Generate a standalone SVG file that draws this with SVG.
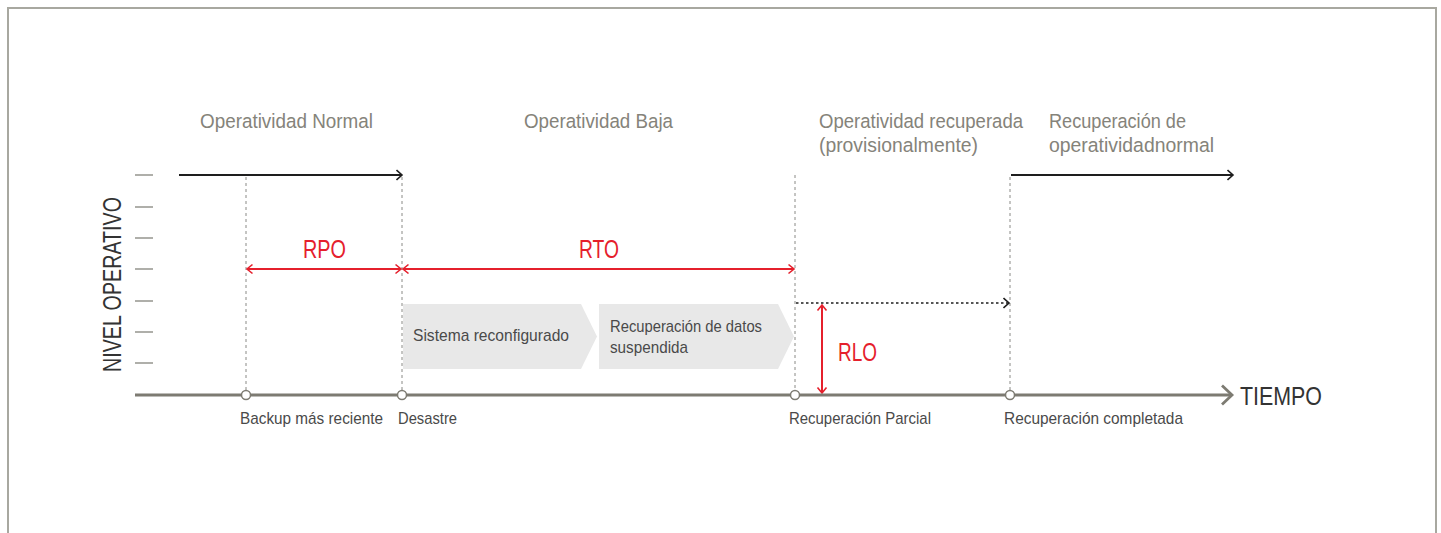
<svg xmlns="http://www.w3.org/2000/svg" width="1441" height="533" viewBox="0 0 1441 533">
<style>
.frame{fill:none;stroke:#a8a8a0;stroke-width:2}
.tick{stroke:#94948e;stroke-width:1.5}
.axis{stroke:#7d7b72;stroke-width:3;fill:none}
.guide{stroke:#8a8a86;stroke-width:1;stroke-dasharray:3 3;fill:none}
.black{stroke:#1e1e1e;stroke-width:2;fill:none}
.dotted{stroke:#1e1e1e;stroke-width:1.3;stroke-dasharray:2.5 2.5;fill:none}
.red{stroke:#e5202c;stroke-width:2;fill:none}
.node{fill:#fff;stroke:#7d7b72;stroke-width:1.5}
.box{fill:#e8e8e8}
text{font-family:"Liberation Sans",Arial,sans-serif}
.hdr{font-size:20.5px;fill:#85837a}
.lbl{font-size:17px;fill:#4a4a4a}
.big{font-size:25px;fill:#e5202c}
.ax{font-size:25px;fill:#333}
</style>
<defs>
<marker id="ab" markerUnits="userSpaceOnUse" markerWidth="10" markerHeight="14" refX="6.5" refY="6" orient="auto"><path d="M1,1 L6.5,6 L1,11" fill="none" stroke="#1e1e1e" stroke-width="1.6"/></marker>
<marker id="ar" markerUnits="userSpaceOnUse" markerWidth="10" markerHeight="14" refX="6.5" refY="6" orient="auto-start-reverse"><path d="M1,1.5 L6.5,6 L1,10.5" fill="none" stroke="#e5202c" stroke-width="1.6"/></marker>
<marker id="aa" markerUnits="userSpaceOnUse" markerWidth="16" markerHeight="24" refX="12" refY="11" orient="auto"><path d="M2,1.5 L12,11 L2,20.5" fill="none" stroke="#7d7b72" stroke-width="2.8"/></marker>
</defs>

<path class="frame" d="M8,533 V8 H1436 V533"/>

<g id="y-axis">
<line class="tick" x1="135" y1="175" x2="153" y2="175"/>
<line class="tick" x1="135" y1="207" x2="153" y2="207"/>
<line class="tick" x1="135" y1="238" x2="153" y2="238"/>
<line class="tick" x1="135" y1="269" x2="153" y2="269"/>
<line class="tick" x1="135" y1="301" x2="153" y2="301"/>
<line class="tick" x1="135" y1="332" x2="153" y2="332"/>
<line class="tick" x1="135" y1="363" x2="153" y2="363"/>
<text class="ax" transform="translate(121,372) rotate(-90)" textLength="175" lengthAdjust="spacingAndGlyphs">NIVEL OPERATIVO</text>
</g>

<g id="phase-labels">
<text class="hdr" x="200" y="128" textLength="173" lengthAdjust="spacingAndGlyphs">Operatividad Normal</text>
<text class="hdr" x="524" y="128" textLength="149" lengthAdjust="spacingAndGlyphs">Operatividad Baja</text>
<text class="hdr" x="819" y="128" textLength="204" lengthAdjust="spacingAndGlyphs">Operatividad recuperada</text>
<text class="hdr" x="819" y="152" textLength="159" lengthAdjust="spacingAndGlyphs">(provisionalmente)</text>
<text class="hdr" x="1049" y="128" textLength="137" lengthAdjust="spacingAndGlyphs">Recuperación de</text>
<text class="hdr" x="1049" y="152" textLength="165" lengthAdjust="spacingAndGlyphs">operatividadnormal</text>
</g>

<g id="box-sistema">
<path class="box" d="M403,304 H581 L597,336.5 L581,369 H403 Z"/>
<text class="lbl" x="413" y="341" textLength="156" lengthAdjust="spacingAndGlyphs">Sistema reconfigurado</text>
</g>
<g id="box-recuperacion">
<path class="box" d="M599,304 H778 L794,336.5 L778,369 H599 Z"/>
<text class="lbl" x="610" y="332" textLength="152" lengthAdjust="spacingAndGlyphs">Recuperación de datos</text>
<text class="lbl" x="610" y="353" textLength="78" lengthAdjust="spacingAndGlyphs">suspendida</text>
</g>

<g id="connectors">
<line class="guide" x1="246" y1="177" x2="246" y2="390"/>
<line class="guide" x1="402" y1="177" x2="402" y2="390"/>
<line class="guide" x1="795" y1="175" x2="795" y2="390"/>
<line class="guide" x1="1010" y1="177" x2="1010" y2="390"/>
<line class="black" x1="179" y1="175" x2="402" y2="175" marker-end="url(#ab)"/>
<line class="black" x1="1011" y1="175" x2="1233" y2="175" marker-end="url(#ab)"/>
<line class="dotted" x1="796" y1="303" x2="1009" y2="303" marker-end="url(#ab)"/>
<line class="red" x1="247" y1="269" x2="401" y2="269" marker-start="url(#ar)" marker-end="url(#ar)"/>
<line class="red" x1="403" y1="269" x2="794" y2="269" marker-start="url(#ar)" marker-end="url(#ar)"/>
<line class="red" x1="822" y1="305" x2="822" y2="393" marker-start="url(#ar)" marker-end="url(#ar)"/>
<line class="axis" x1="135" y1="395" x2="1232" y2="395" marker-end="url(#aa)"/>
</g>

<g id="metrics">
<text class="big" x="303" y="258" textLength="43" lengthAdjust="spacingAndGlyphs">RPO</text>
<text class="big" x="579" y="258" textLength="40" lengthAdjust="spacingAndGlyphs">RTO</text>
<text class="big" x="838" y="361" textLength="39" lengthAdjust="spacingAndGlyphs">RLO</text>
</g>

<g id="node-backup">
<circle class="node" cx="246" cy="395" r="4.5"/>
<text class="lbl" x="240" y="424" textLength="143" lengthAdjust="spacingAndGlyphs">Backup más reciente</text>
</g>
<g id="node-desastre">
<circle class="node" cx="402" cy="395" r="4.5"/>
<text class="lbl" x="398" y="424" textLength="59" lengthAdjust="spacingAndGlyphs">Desastre</text>
</g>
<g id="node-parcial">
<circle class="node" cx="795" cy="395" r="4.5"/>
<text class="lbl" x="789" y="424" textLength="142" lengthAdjust="spacingAndGlyphs">Recuperación Parcial</text>
</g>
<g id="node-completada">
<circle class="node" cx="1010" cy="395" r="4.5"/>
<text class="lbl" x="1004" y="424" textLength="179" lengthAdjust="spacingAndGlyphs">Recuperación completada</text>
</g>

<g id="tiempo">
<text class="ax" x="1240" y="405" font-size="26" textLength="82" lengthAdjust="spacingAndGlyphs">TIEMPO</text>
</g>
</svg>
